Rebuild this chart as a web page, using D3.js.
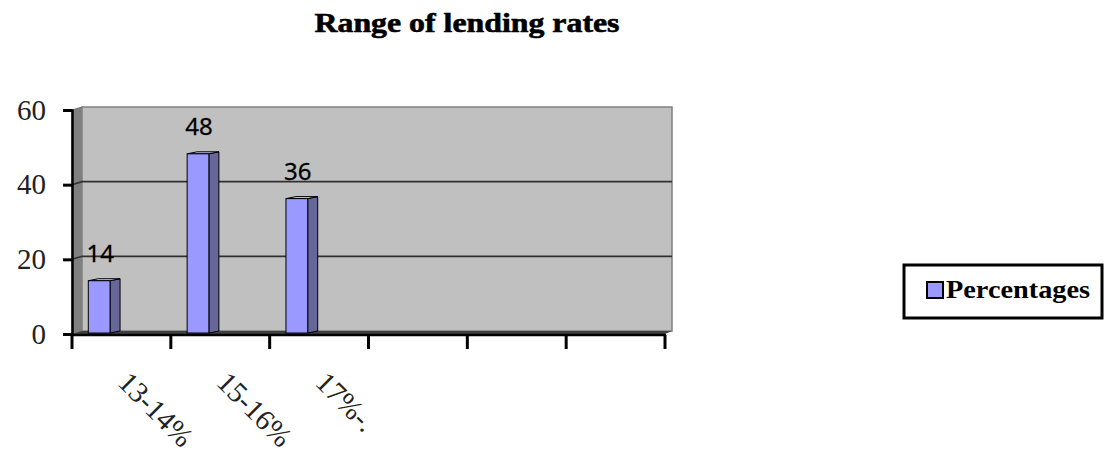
<!DOCTYPE html>
<html><head><meta charset="utf-8">
<script src="https://cdn.jsdelivr.net/npm/d3@7"></script>
<style>html,body{margin:0;padding:0;background:#fff;}svg{display:block;}</style>
</head><body>
<svg id="chart" width="1110" height="453"></svg>
<script>
const title = "Range of lending rates";
const categories = ["13-14%", "15-16%", "17%-.", "", "", ""];
const percentages = [14, 48, 36, null, null, null];
const seriesName = "Percentages";
const yTicks = [0, 20, 40, 60];

const svg = d3.select("#chart");
const dx = 10, dy = -3;

const x = d3.scaleBand().domain(d3.range(categories.length)).range([72, 665]).padding(0);
const y = d3.scaleLinear().domain([0, 60]).range([334, 110]);
const bw = x.bandwidth();

const left = x.range()[0], right = x.range()[1];
const y0 = y(0), yTop = y(60);

// side wall
svg.append("polygon")
  .attr("points", [[left, yTop], [left + dx, yTop + dy], [left + dx, y0 + dy], [left, y0]].map(p => p.join(",")).join(" "))
  .attr("fill", "#808080").attr("stroke", "#707070").attr("stroke-width", 1);
// back wall
svg.append("rect")
  .attr("x", left + dx).attr("y", yTop + dy)
  .attr("width", right - left - 3).attr("height", y0 - yTop)
  .attr("fill", "#c0c0c0").attr("stroke", "#808080").attr("stroke-width", 1.5);
// floor
svg.append("polygon")
  .attr("points", [[left, y0], [left + dx, y0 + dy], [right + 7, y0 + dy], [right, y0]].map(p => p.join(",")).join(" "))
  .attr("fill", "#404040");

// gridlines
yTicks.filter(v => v > 0 && v < 60).forEach(v => {
  svg.append("polyline")
    .attr("points", [[left, y(v)], [left + dx, y(v) + dy], [right + 7, y(v) + dy]].map(p => p.join(",")).join(" "))
    .attr("fill", "none").attr("stroke", "#303030").attr("stroke-width", 1.6);
});

// bars
const bars = svg.append("g");
percentages.forEach((v, i) => {
  if (v == null) return;
  const bx = x(i) + bw * 0.165, w = bw * 0.22;
  const top = y(v) - 1, bot = y0 - 1;
  const sdx = 10, sdy = -2;
  bars.append("polygon")
    .attr("points", [[bx + w, top], [bx + w + sdx, top + sdy], [bx + w + sdx, bot + sdy], [bx + w, bot]].map(p => p.join(",")).join(" "))
    .attr("fill", "#666699").attr("stroke", "#000").attr("stroke-width", 1);
  bars.append("polygon")
    .attr("points", [[bx, top], [bx + sdx, top + sdy], [bx + w + sdx, top + sdy], [bx + w, top]].map(p => p.join(",")).join(" "))
    .attr("fill", "#ccccff").attr("stroke", "#000").attr("stroke-width", 1);
  bars.append("rect")
    .attr("x", bx).attr("y", top).attr("width", w).attr("height", bot - top)
    .attr("fill", "#9999ff").attr("stroke", "#000").attr("stroke-width", 1);
  bars.append("text")
    .attr("x", bx + w / 2 + 1).attr("y", top - 19)
    .attr("text-anchor", "middle")
    .attr("font-family", "Noto Sans, sans-serif").attr("font-size", 24)
    .attr("fill", "#000").attr("stroke", "#000").attr("stroke-width", 0.3).text(v);
});

// y axis
const yAxis = d3.axisLeft(y).tickValues(yTicks).tickSize(9).tickPadding(17);
const gy = svg.append("g").attr("transform", `translate(${left},0)`).call(yAxis);
gy.select(".domain").attr("stroke", "#000").attr("stroke-width", 2.5);
gy.selectAll(".tick line").attr("stroke", "#000").attr("stroke-width", 3);
gy.selectAll(".tick text")
  .attr("font-family", "Liberation Serif, serif").attr("font-size", 29).attr("fill", "#222");

// x axis
const gx = svg.append("g").attr("transform", `translate(0,${y0 + 1})`);
gx.append("line").attr("x1", left).attr("x2", right + 1).attr("y1", 0).attr("y2", 0)
  .attr("stroke", "#000").attr("stroke-width", 2.5);
const bounds = x.domain().map(i => x(i)).concat([right]);
gx.selectAll("line.tk").data(bounds).join("line").attr("class", "tk")
  .attr("x1", d => d).attr("x2", d => d).attr("y1", 0).attr("y2", 14)
  .attr("stroke", "#000").attr("stroke-width", 3);
gx.selectAll("text.lbl").data(x.domain()).join("text").attr("class", "lbl")
  .attr("transform", i => `translate(${x(i) + bw / 2 - 5},${384 - y0 - 1}) rotate(45)`)
  .attr("text-anchor", "start")
  .attr("font-family", "Liberation Serif, serif").attr("font-size", 29).attr("fill", "#222")
  .text(i => categories[i]);

// title
svg.append("text").attr("x", 467).attr("y", 32).attr("text-anchor", "middle")
  .attr("font-family", "Liberation Serif, serif").attr("font-weight", "bold").attr("font-size", 28)
  .attr("textLength", 305).attr("lengthAdjust", "spacingAndGlyphs")
  .attr("fill", "#000").attr("stroke", "#000").attr("stroke-width", 0.6).text(title);

// legend
const lg = svg.append("g");
lg.append("rect").attr("x", 904).attr("y", 265).attr("width", 198).attr("height", 53)
  .attr("fill", "#fff").attr("stroke", "#000").attr("stroke-width", 3);
lg.append("rect").attr("x", 927).attr("y", 282).attr("width", 16).attr("height", 16)
  .attr("fill", "#9999ff").attr("stroke", "#000").attr("stroke-width", 2);
lg.append("text").attr("x", 946).attr("y", 298)
  .attr("font-family", "Liberation Serif, serif").attr("font-weight", "bold").attr("font-size", 25)
  .attr("textLength", 144).attr("lengthAdjust", "spacingAndGlyphs")
  .attr("fill", "#000").text(seriesName);
</script>
</body></html>
